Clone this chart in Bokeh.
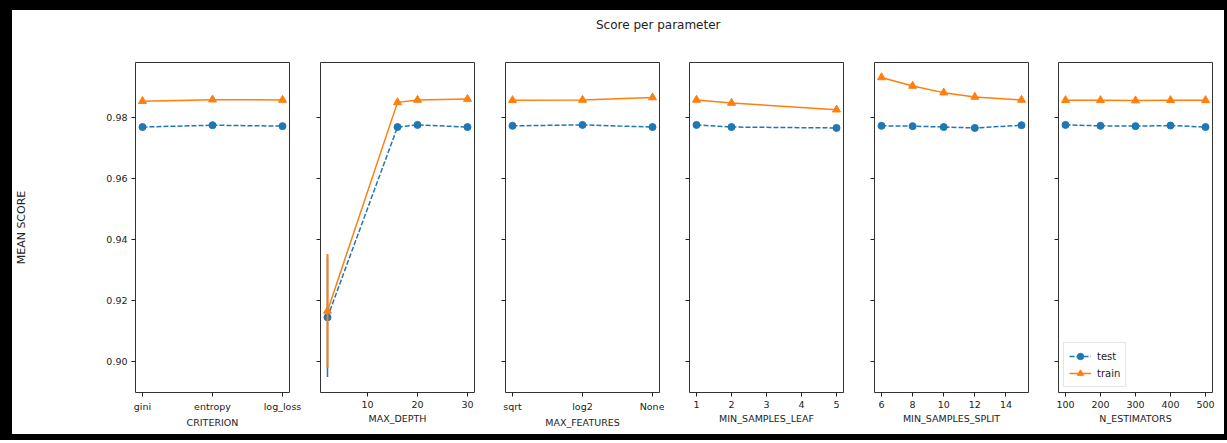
from bokeh.plotting import figure
from bokeh.layouts import row, column
from bokeh.models import (Range1d, FixedTicker, NumeralTickFormatter, CustomJSTickFormatter,
                          Legend, LegendItem, Div)
from bokeh.embed import file_html
from bokeh.resources import INLINE

# ---------------- data ----------------
criterion = ["gini", "entropy", "log_loss"]
criterion_test = [0.9769, 0.9775, 0.9772]
criterion_train = [0.9854, 0.9859, 0.9858]
criterion_test_std = [0.0006, 0.0005, 0.0006]
criterion_train_std = [0.0003, 0.0003, 0.0003]

max_depth = [2, 16, 20, 30]
max_depth_test = [0.9144, 0.9769, 0.9776, 0.9769]
max_depth_train = [0.9165, 0.9850, 0.9858, 0.9861]
max_depth_test_std = [0.0196, 0.0006, 0.0005, 0.0006]
max_depth_train_std = [0.0187, 0.0003, 0.0003, 0.0003]

max_features = ["sqrt", "log2", "None"]
max_features_test = [0.9773, 0.9776, 0.9769]
max_features_train = [0.9857, 0.9858, 0.9866]
max_features_test_std = [0.0006, 0.0005, 0.0006]
max_features_train_std = [0.0003, 0.0003, 0.0003]

min_samples_leaf = [1, 2, 5]
min_samples_leaf_test = [0.9776, 0.9769, 0.9766]
min_samples_leaf_train = [0.9858, 0.9848, 0.9826]
min_samples_leaf_test_std = [0.0005, 0.0006, 0.0006]
min_samples_leaf_train_std = [0.0003, 0.0003, 0.0003]

min_samples_split = [6, 8, 10, 12, 15]
min_samples_split_test = [0.9773, 0.9772, 0.9769, 0.9766, 0.9775]
min_samples_split_train = [0.9932, 0.9904, 0.9882, 0.9868, 0.9858]
min_samples_split_test_std = [0.0006, 0.0006, 0.0006, 0.0006, 0.0005]
min_samples_split_train_std = [0.0003, 0.0003, 0.0003, 0.0003, 0.0003]

n_estimators = [100, 200, 300, 400, 500]
n_estimators_test = [0.9776, 0.9773, 0.9772, 0.9774, 0.9769]
n_estimators_train = [0.9857, 0.9857, 0.9856, 0.9857, 0.9857]
n_estimators_test_std = [0.0005, 0.0006, 0.0006, 0.0005, 0.0006]
n_estimators_train_std = [0.0003, 0.0003, 0.0003, 0.0003, 0.0003]

y_ticks = [0.90, 0.92, 0.94, 0.96, 0.98]

# ---------------- styling ----------------
FONT = "DejaVu Sans"
TEXT = "#222222"
BLUE = "#1f77b4"
ORANGE = "#ff7f0e"

y_range = Range1d(0.8897, 0.9981)

panels = [
    dict(name="CRITERION", x=list(range(len(criterion))), labels=criterion,
         test=criterion_test, train=criterion_train,
         ts=criterion_test_std, rs=criterion_train_std),
    dict(name="MAX_DEPTH", x=max_depth, ticks=[10, 20, 30],
         test=max_depth_test, train=max_depth_train,
         ts=max_depth_test_std, rs=max_depth_train_std),
    dict(name="MAX_FEATURES", x=list(range(len(max_features))), labels=max_features,
         test=max_features_test, train=max_features_train,
         ts=max_features_test_std, rs=max_features_train_std),
    dict(name="MIN_SAMPLES_LEAF", x=min_samples_leaf, ticks=[1, 2, 3, 4, 5],
         test=min_samples_leaf_test, train=min_samples_leaf_train,
         ts=min_samples_leaf_test_std, rs=min_samples_leaf_train_std),
    dict(name="MIN_SAMPLES_SPLIT", x=min_samples_split, ticks=[6, 8, 10, 12, 14],
         test=min_samples_split_test, train=min_samples_split_train,
         ts=min_samples_split_test_std, rs=min_samples_split_train_std),
    dict(name="N_ESTIMATORS", x=n_estimators, ticks=[100, 200, 300, 400, 500],
         test=n_estimators_test, train=n_estimators_train,
         ts=n_estimators_test_std, rs=n_estimators_train_std),
]

borders = [(120, 15), (16, 5), (26, 5), (25, 5), (26, 5), (25, 5)]

figs = []
for i, pan in enumerate(panels):
    xs = pan["x"]
    lo, hi = min(xs), max(xs)
    pad = (hi - lo) * 0.05
    bl, br = borders[i]
    p = figure(frame_width=154, frame_height=330,
               min_border_left=bl, min_border_right=br,
               min_border_top=12, min_border_bottom=42,
               x_range=Range1d(lo - pad, hi + pad), y_range=y_range,
               output_backend="svg", toolbar_location=None,
               background_fill_color="white", border_fill_color="white")
    p.grid.visible = False
    p.outline_line_color = "#333333"
    p.outline_line_width = 1
    p.outline_line_alpha = 1

    for ax in (p.xaxis[0], p.yaxis[0]):
        ax.axis_line_color = None
        ax.major_tick_in = 0
        ax.major_tick_out = 4
        ax.major_tick_line_color = "#222222"
        ax.minor_tick_line_color = None
        ax.major_label_text_font = FONT
        ax.major_label_text_font_size = "9.5px"
        ax.major_label_text_color = TEXT
        ax.major_label_standoff = 4
        ax.axis_label_text_font = FONT
        ax.axis_label_text_font_style = "normal"
        ax.axis_label_text_color = TEXT

    p.xaxis.axis_label = pan["name"]
    p.xaxis.axis_label_text_font_size = "9.5px"
    p.xaxis.axis_label_standoff = 2
    if "labels" in pan:
        p.xaxis.ticker = FixedTicker(ticks=xs)
        p.xaxis.major_label_overrides = {x: lab for x, lab in zip(xs, pan["labels"])}
    else:
        p.xaxis.ticker = FixedTicker(ticks=pan["ticks"])

    p.yaxis.ticker = FixedTicker(ticks=y_ticks)
    if i == 0:
        p.yaxis.formatter = NumeralTickFormatter(format="0.00")
        p.yaxis.axis_label = "MEAN SCORE"
        p.yaxis.axis_label_text_font_size = "11px"
        p.yaxis.axis_label_standoff = 75
    else:
        p.yaxis.formatter = CustomJSTickFormatter(code="return ''")

    t_lo = [m - s for m, s in zip(pan["test"], pan["ts"])]
    t_hi = [m + s for m, s in zip(pan["test"], pan["ts"])]
    p.segment(x0=xs, y0=t_lo, x1=xs, y1=t_hi, line_color=BLUE, line_width=1.5)
    l_test = p.line(xs, pan["test"], line_color=BLUE, line_width=1.5, line_dash="5 2")
    s_test = p.scatter(xs, pan["test"], marker="circle", size=7,
                       fill_color=BLUE, line_color=BLUE)

    r_lo = [m - s for m, s in zip(pan["train"], pan["rs"])]
    r_hi = [m + s for m, s in zip(pan["train"], pan["rs"])]
    p.segment(x0=xs, y0=r_lo, x1=xs, y1=r_hi, line_color=ORANGE, line_width=2)
    l_train = p.line(xs, pan["train"], line_color=ORANGE, line_width=1.5)
    s_train = p.scatter(xs, pan["train"], marker="triangle", size=8,
                        fill_color=ORANGE, line_color=ORANGE)

    if i == len(panels) - 1:
        legend = Legend(items=[LegendItem(label="test", renderers=[l_test, s_test]),
                               LegendItem(label="train", renderers=[l_train, s_train])],
                        location="bottom_left")
        legend.margin = 5
        legend.padding = 5
        legend.spacing = 1
        legend.glyph_width = 22
        legend.glyph_height = 16
        legend.label_standoff = 6
        legend.label_text_font = FONT
        legend.label_text_font_size = "10px"
        legend.label_text_color = TEXT
        legend.border_line_color = "#cccccc"
        legend.border_line_width = 1
        legend.background_fill_alpha = 0.9
        p.add_layout(legend)

    figs.append(p)

title = Div(text='<div style="margin-left:579px;padding-top:3px;line-height:14px;'
                 'font-family:\'DejaVu Sans\';font-size:12px;color:#222;">Score per parameter</div>',
            width=1202, height=30)

layout = column(title, row(*figs),
                styles={"border-style": "solid", "border-color": "black",
                        "border-width": "10px 6px 6px 12px", "background-color": "white"})

open("out.html", "w").write(file_html(layout, INLINE))
